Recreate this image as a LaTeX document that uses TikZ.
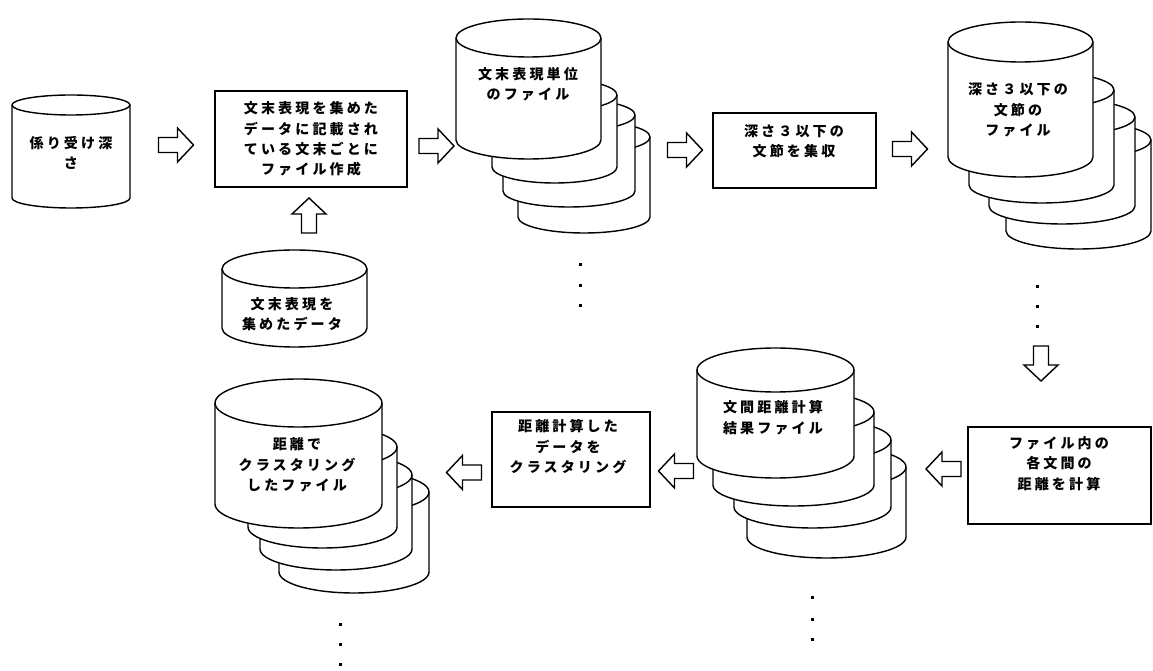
\documentclass[tikz,border=0pt]{standalone}
\usepackage{fontspec}
\newfontfamily\jpfont[LetterSpace=22]{Noto Sans CJK JP}

% drum: centre x, half width, top y, bottom y, y radius
\newcommand{\drum}[5]{%
  \filldraw[thick, fill=white] ({#1-#2},#3) -- ({#1-#2},#4) arc (180:0:#2 and #5)
    -- ({#1+#2},#3) arc (0:-180:#2 and #5) -- cycle;
  \draw[thick] ({#1-#2},#3) arc (180:0:#2 and #5);}

\tikzset{
  jtext/.style={font=\jpfont\bfseries\fontsize{8}{11.6}\selectfont, align=center, inner sep=0pt},
  procbox/.style={draw, thick, fill=white, inner sep=0pt},
  fatarrow/.pic={\draw[thick, fill=white] (-17.5,-7.5) -- (1.5,-7.5) -- (1.5,-17) -- (17.5,0)
    -- (1.5,17) -- (1.5,7.5) -- (-17.5,7.5) -- cycle;}
}

\begin{document}
\begin{tikzpicture}[x=0.02cm, y=-0.02cm]
  \useasboundingbox (0,0) rectangle (1153,671);

  % top row
  \drum{71}{59}{105}{198}{10}
  \node[jtext] (depth) at (71,153) {係り受け深\\さ};
  \pic at (176,145) {fatarrow};

  \node[procbox, minimum width=3.84cm, minimum height=1.92cm] (mkfile) at (311,139) {};
  \node[jtext] (mkfiletxt) at (311,139) {文末表現を集めた\\データに記載され\\ている文末ごとに\\ファイル作成};
  \pic at (436.5,146) {fatarrow};

  \drum{584}{66}{137}{217}{16}
  \drum{569}{66}{115}{191}{16}
  \drum{554.5}{62.5}{95}{167}{16}
  \drum{528.5}{72.5}{38}{140}{19}
  \node[jtext] (unitfiles) at (528,84.5) {文末表現単位\\のファイル};
  \foreach \yy in {265,286,306} \fill (578.5,\yy-1.5) rectangle ++(3,3);
  \pic at (685,150) {fatarrow};

  \node[procbox, minimum width=3.26cm, minimum height=1.5cm] (collect) at (794.5,150.5) {};
  \node[jtext] (collecttxt) at (794,141) {深さ３以下の\\文節を集収};
  \pic at (910,149) {fatarrow};

  \drum{1078.5}{72.5}{140}{231}{18}
  \drum{1062}{73}{117}{206}{18}
  \drum{1041.5}{72.5}{90}{185}{18}
  \drum{1020.5}{72.5}{42}{157}{20}
  \node[jtext] (phrfiles) at (1018,110) {深さ３以下の\\文節の\\ファイル};
  \foreach \yy in {287,307,327} \fill (1035.5,\yy-1.5) rectangle ++(3,3);
  \pic[rotate=-90] at (1041,363.5) {fatarrow};

  % input data
  \pic[rotate=90] at (309,215.5) {fatarrow};
  \drum{294.5}{72.5}{269}{328}{19}
  \node[jtext] (enddata) at (292,314) {文末表現を\\集めたデータ};

  % bottom row
  \node[procbox, minimum width=3.66cm, minimum height=1.94cm] (calc) at (1059.5,475.5) {};
  \node[jtext] (calctxt) at (1059,463.5) {ファイル内の\\各文間の\\距離を計算};
  \pic[rotate=180] at (943.5,469) {fatarrow};

  \drum{826.5}{79.5}{467}{537}{21}
  \drum{812.5}{78.5}{440}{507}{21}
  \drum{793.5}{80.5}{412}{485}{21}
  \drum{775.5}{78.5}{370}{456}{22}
  \node[jtext] (distfiles) at (773,417.5) {文間距離計算\\結果ファイル};
  \foreach \yy in {598,620,640} \fill (810.5,\yy-1.5) rectangle ++(3,3);
  \pic[rotate=180] at (676,471) {fatarrow};

  \node[procbox, minimum width=3.16cm, minimum height=1.9cm] (clust) at (571,459.5) {};
  \node[jtext] (clusttxt) at (568,447) {距離計算した\\データを\\クラスタリング};
  \pic[rotate=180] at (464,472.5) {fatarrow};

  \drum{354}{75}{492}{572}{21}
  \drum{336}{76}{475}{549}{21}
  \drum{322.5}{74.5}{447}{527}{21}
  \drum{298.5}{83.5}{403}{504}{24}
  \node[jtext] (clfiles) at (297,465) {距離で\\クラスタリング\\したファイル};
  \foreach \yy in {625,645,665} \fill (338.5,\yy-1.5) rectangle ++(3,3);
\end{tikzpicture}
\end{document}
